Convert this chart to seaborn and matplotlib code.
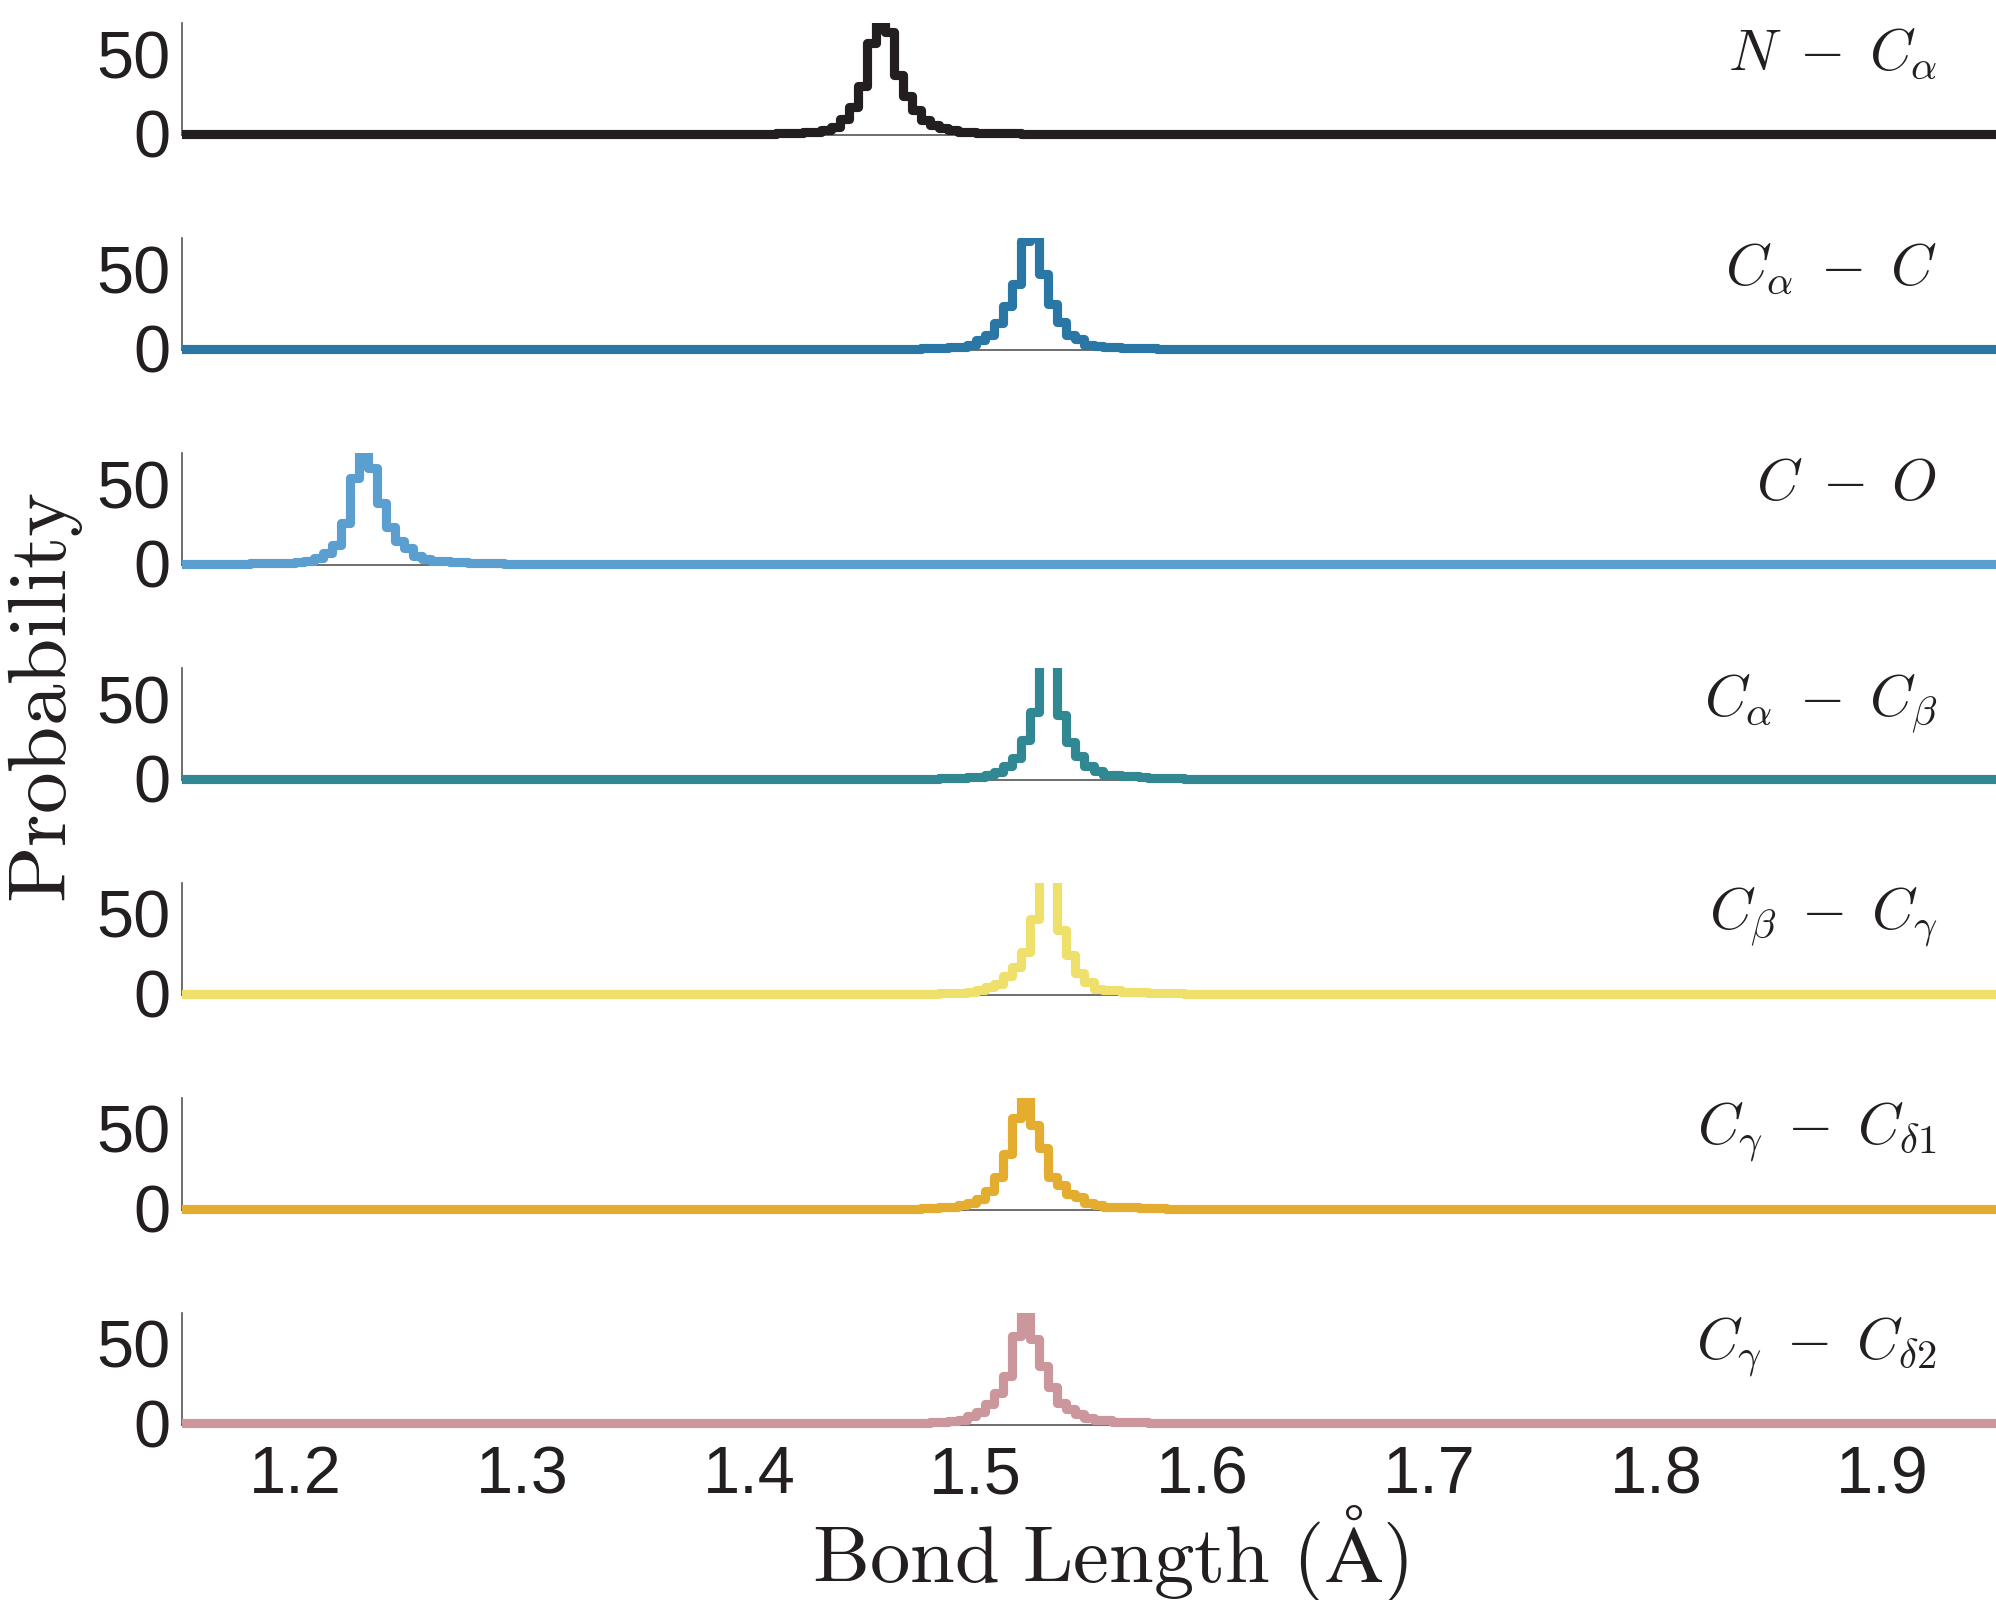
import numpy as np
import pandas as pd
import seaborn as sns
import matplotlib.pyplot as plt
import matplotlib.transforms as mtransforms
from matplotlib.patches import Rectangle

# === bonds, labels, colours ===
bonds = ["N-CA", "CA-C", "C-O", "CA-CB", "CB-CG", "CG-CD1", "CG-CD2"]
bond_labels = [r"$N\;-\;C_{\alpha}$", r"$C_{\alpha}\;-\;C$", r"$C\;-\;O$",
               r"$C_{\alpha}\;-\;C_{\beta}$", r"$C_{\beta}\;-\;C_{\gamma}$",
               r"$C_{\gamma}\;-\;C_{\delta 1}$", r"$C_{\gamma}\;-\;C_{\delta 2}$"]
colors = ["#231f20", "#2a77a6", "#5b9fd0", "#318893", "#efdf6b", "#e5ad30", "#cc979c"]

# histogram bins (0.004 A wide, centres 1.150 ... 1.950)
bin_start = 1.15
bin_width = 0.004
n_bins = 201

# first bin centre of the non-zero window, then the heights
window_start = [1.414, 1.478, 1.182, 1.486, 1.486, 1.478, 1.474]
heights_n_ca = [0.3, 0.5, 0.7, 1.0, 1.0, 2.3, 4.4, 9.6, 17, 30, 57, 85,
                64, 37, 24, 15, 9, 5.6, 3.5, 2.3, 1.5, 1.0, 0.8, 0.6, 0.5, 0.4, 0.3]
heights_ca_c = [0.3, 0.5, 0.7, 1.0, 1.3, 2.3, 5.4, 8.6, 16.5, 27, 41, 68, 78,
                47, 28, 17, 8.6, 6, 2.7, 1.5, 1.2, 1.0, 0.7, 0.5, 0.4, 0.3]
heights_c_o = [0.3, 0.4, 0.5, 0.6, 0.8, 1.2, 2, 3.6, 6.7, 12, 25.5, 54, 85,
               60, 38, 23.4, 14, 9.8, 4.6, 3, 1.8, 1.8, 1.0, 1.0, 0.7, 0.5, 0.4, 0.3]
heights_ca_cb = [0.3, 0.5, 0.7, 1.0, 1.2, 2.2, 4.2, 7.7, 13, 24.5, 42, 80, 82,
                 40, 23, 14, 7.7, 4.6, 2.3, 2.3, 1.5, 1.5, 1.0, 0.7, 0.5, 0.4, 0.3]
heights_cb_cg = [0.3, 0.5, 0.7, 1.2, 2, 4.4, 6, 11, 17, 26, 47, 82, 80,
                 40, 24, 12.8, 7, 3.1, 2, 2, 1.2, 1.2, 1.0, 0.7, 0.5, 0.4, 0.3]
heights_cg_cd1 = [0.3, 0.5, 0.7, 1.2, 2.2, 3.8, 6, 11, 19.5, 34.5, 57, 74,
                  52.5, 38, 20, 15, 9.4, 7.3, 3.8, 2.2, 1.2, 1.2, 0.9, 0.7, 0.5, 0.4, 0.3]
heights_cg_cd2 = [0.3, 0.5, 0.7, 1.0, 1.5, 2.5, 4.5, 7.2, 12.4, 19, 30, 55, 80,
                  53, 36, 23, 13, 9.3, 6, 3.5, 2, 2, 1.0, 1.0, 1.0, 0.7, 0.5, 0.4, 0.3]
all_heights = [heights_n_ca, heights_ca_c, heights_c_o, heights_ca_cb,
               heights_cb_cg, heights_cg_cd1, heights_cg_cd2]

# === long-form table ===
centres = np.round(bin_start + bin_width * np.arange(n_bins), 3)
rows = []
for name, start, h in zip(bonds, window_start, all_heights):
    prob = np.zeros(n_bins)
    i0 = int(round((start - bin_start) / bin_width))
    prob[i0:i0 + len(h)] = h
    rows.append(pd.DataFrame({"bond": name, "length": centres, "prob": prob}))
df = pd.concat(rows, ignore_index=True)

# === style ===
sns.set_style("white")
plt.rcParams["font.family"] = ["Liberation Sans", "DejaVu Sans"]
plt.rcParams["mathtext.fontset"] = "cm"

fig = plt.figure(figsize=(9.98, 8), dpi=200)
left, width, height = 0.0912, 0.9088, 0.0699
top_bottom, step = 0.9156, 0.13433

for i, (name, lab, col) in enumerate(zip(bonds, bond_labels, colors)):
    ax = fig.add_axes([left, top_bottom - i * step, width, height])
    sns.lineplot(data=df[df["bond"] == name], x="length", y="prob", ax=ax,
                 color=col, linewidth=3.3, estimator=None, drawstyle="steps-mid",
                 solid_joinstyle="round", solid_capstyle="round", legend=False)
    clip = Rectangle((0, -0.3), 1, 1.3, transform=ax.transAxes)
    for ln in ax.lines:
        ln.set_clip_path(clip)
        ln.set_zorder(3)

    ax.set_xlim(1.15, 1.95)
    ax.set_ylim(-0.7, 69.5)
    ax.set_yticks([0, 50])
    ax.set_xticks([1.2, 1.3, 1.4, 1.5, 1.6, 1.7, 1.8, 1.9])
    ax.set_xlabel("")
    ax.set_ylabel("")
    sns.despine(ax=ax, top=True, right=True)
    for s in ["left", "bottom"]:
        ax.spines[s].set_color("#555555")
        ax.spines[s].set_linewidth(0.6)
    ax.set_facecolor("none")
    ax.tick_params(direction="in", length=6.5, width=0.5, color="#555555",
                   labelsize=24, labelcolor="#231f20", pad=4)
    ax.tick_params(axis="x", pad=7.5, labelbottom=(i == len(bonds) - 1))

    trans = mtransforms.blended_transform_factory(ax.transAxes, ax.transData)
    ax.text(0.9675, 40, lab, transform=trans, ha="right", va="baseline",
            fontsize=21, color="#231f20")

fig.text(0.023, 0.564, r"$\mathrm{Probability}$", rotation=90,
         ha="center", va="center", fontsize=30, color="#231f20")
fig.text(0.556, 0.029, r"$\mathrm{Bond\ Length\ (\AA)}$",
         ha="center", va="center", fontsize=29, color="#231f20")

fig.savefig("out.png", dpi=200)
